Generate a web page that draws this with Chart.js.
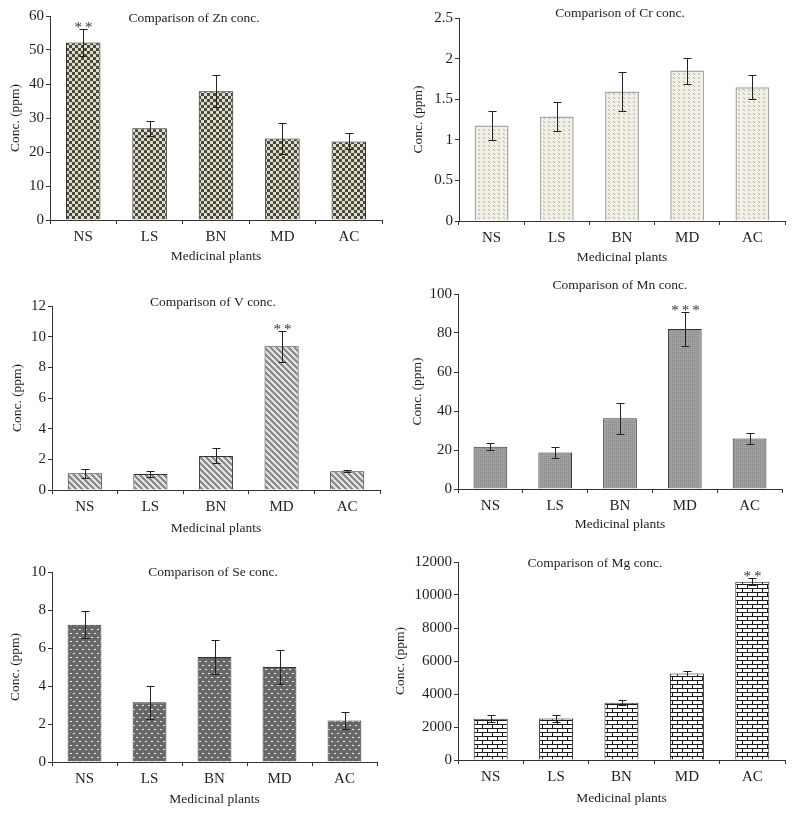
<!DOCTYPE html>
<html>
<head>
<meta charset="utf-8">
<script src="https://cdn.jsdelivr.net/npm/chart.js@4.4.1/dist/chart.umd.min.js"></script>
<style>
  body { margin: 0; background: #fff; }
  #wrap { position: relative; width: 793px; height: 815px; overflow: hidden; }
  #wrap canvas { position: absolute; }
</style>
</head>
<body>
<div id="wrap">
  <canvas id="zn"></canvas>
  <canvas id="v"></canvas>
  <canvas id="se"></canvas>
  <canvas id="cr"></canvas>
  <canvas id="mn"></canvas>
  <canvas id="mg"></canvas>
</div>
<script>
// data (mean and +/- error, ppm)
const plants = ['NS', 'LS', 'BN', 'MD', 'AC'];

const znConc = [52.2, 27.0, 37.9, 24.0, 23.1];
const znErr = [3.85, 2.2, 4.7, 4.5, 2.35];
const znStars = ['**', '', '', '', ''];

const crConc = [1.175, 1.286, 1.594, 1.853, 1.648];
const crErr = [0.175, 0.175, 0.245, 0.16, 0.15];
const crStars = ['', '', '', '', ''];

const vConc = [1.09, 1.04, 2.22, 9.38, 1.22];
const vErr = [0.30, 0.22, 0.49, 1.0, 0.06];
const vStars = ['', '', '', '**', ''];

const mnConc = [21.7, 18.7, 36.3, 82.0, 25.9];
const mnErr = [1.9, 2.7, 7.9, 8.9, 3.0];
const mnStars = ['', '', '', '***', ''];

const seConc = [7.23, 3.14, 5.53, 5.0, 2.19];
const seErr = [0.71, 0.86, 0.9, 0.91, 0.45];
const seStars = ['', '', '', '', ''];

const mgConc = [2500, 2520, 3470, 5245, 10810];
const mgErr = [200, 230, 150, 160, 210];
const mgStars = ['', '', '', '', '**'];

const FONT = '"Liberation Serif", "Times New Roman", serif';
Chart.defaults.font.family = FONT;
Chart.defaults.font.size = 15;
Chart.defaults.color = '#1e1e1e';

function tile(w, h, draw) {
  const c = document.createElement('canvas');
  c.width = w; c.height = h;
  const g = c.getContext('2d');
  draw(g);
  return g.createPattern(c, 'repeat');
}

const checker = tile(6, 6, g => {
  g.fillStyle = '#dedbcb'; g.fillRect(0, 0, 6, 6);
  g.fillStyle = '#4a4a3c'; g.fillRect(0, 0, 3, 3); g.fillRect(3, 3, 3, 3);
});
const dashes = tile(5, 4, g => {
  g.fillStyle = '#f2efe5'; g.fillRect(0, 0, 5, 4);
  g.fillStyle = '#aeab9f'; g.fillRect(1, 1, 1, 1); g.fillRect(2, 2, 1, 1);
});
const stripes = tile(6, 6, g => {
  for (let x = 0; x < 6; x++) for (let y = 0; y < 6; y++) {
    g.fillStyle = ((x - y + 12) % 6) < 3 ? '#8a8a8a' : '#e2e2e2';
    g.fillRect(x, y, 1, 1);
  }
});
const fineGrey = tile(2, 2, g => {
  g.fillStyle = '#a0a0a0'; g.fillRect(0, 0, 2, 2);
  g.fillStyle = '#8a8a8a'; g.fillRect(0, 0, 1, 1);
});
const dots = tile(6, 8, g => {
  g.fillStyle = '#686868'; g.fillRect(0, 0, 6, 8);
  g.fillStyle = '#eeeeee'; g.fillRect(1, 1, 2, 1); g.fillRect(4, 5, 2, 1);
});
const bricks = tile(10, 8, g => {
  g.fillStyle = '#ffffff'; g.fillRect(0, 0, 10, 8);
  g.fillStyle = '#1a1a1a';
  g.fillRect(0, 0, 10, 1); g.fillRect(0, 4, 10, 1);
  g.fillRect(0, 0, 1, 4); g.fillRect(5, 4, 1, 4);
});

const errorBars = {
  id: 'errorBars',
  afterDatasetsDraw(chart, args, o) {
    const ctx = chart.ctx;
    const y = chart.scales.y;
    const meta = chart.getDatasetMeta(0);
    ctx.save();
    ctx.strokeStyle = '#222';
    ctx.fillStyle = '#333';
    ctx.lineWidth = 1;
    ctx.font = '15px ' + FONT;
    ctx.textAlign = 'center';
    o.means.forEach((m, i) => {
      const px = Math.round(meta.data[i].x) + 0.5;
      const top = Math.round(y.getPixelForValue(m + o.errs[i])) + 0.5;
      const bot = Math.round(y.getPixelForValue(m - o.errs[i])) + 0.5;
      ctx.beginPath();
      ctx.moveTo(px, top); ctx.lineTo(px, bot);
      ctx.moveTo(px - 4, top); ctx.lineTo(px + 4, top);
      ctx.moveTo(px - 4, bot); ctx.lineTo(px + 4, bot);
      ctx.stroke();
      if (o.stars[i]) {
        ctx.textBaseline = 'alphabetic';
        ctx.fillText(o.stars[i].split('').join('\u2009'), px, top + 2);
      }
    });
    ctx.fillStyle = '#1e1e1e';
    ctx.font = '13.5px ' + FONT;
    ctx.textBaseline = 'middle';
    ctx.fillText(o.title, o.titleX, o.titleY);
    ctx.restore();
  }
};

function makeChart(id, values, errs, stars, title, max, step, fill, border, g) {
  const cv = document.getElementById(id);
  cv.width = g.w; cv.height = g.h;
  cv.style.left = g.x + 'px'; cv.style.top = g.y + 'px';
  return new Chart(cv, {
    type: 'bar',
    data: {
      labels: plants,
      datasets: [{
        data: values,
        backgroundColor: fill,
        borderColor: border,
        borderWidth: g.bw || 1,
        barPercentage: 0.52,
        categoryPercentage: 1
      }]
    },
    options: {
      responsive: false,
      animation: false,
      layout: { padding: { top: g.top, right: g.w - g.right, left: 0, bottom: 0 } },
      plugins: {
        legend: { display: false },
        tooltip: { enabled: false },
        errorBars: { means: values, errs: errs, stars: stars, title: title, titleX: g.tx, titleY: g.ty }
      },
      scales: {
        x: {
          grid: { drawOnChartArea: false, tickLength: 4, color: '#333', offset: true },
          border: { color: '#333' },
          ticks: { padding: 4 },
          title: { display: true, text: 'Medicinal plants', font: { size: 13.5 }, padding: { top: 0, bottom: Math.max(0, g.h - g.xty - 8.1) } },
          afterFit: s => { s.height = g.h - g.bottom; }
        },
        y: {
          min: 0,
          max: max,
          ticks: { stepSize: step, padding: 2, callback: v => String(v) },
          grid: { drawOnChartArea: false, tickLength: 4, color: '#333' },
          border: { color: '#333' },
          title: { display: true, text: 'Conc. (ppm)', font: { size: 13.5 }, padding: { top: Math.max(0, g.ytx - 8.1), bottom: 0 } },
          afterFit: s => { s.width = g.left; }
        }
      }
    },
    plugins: [errorBars]
  });
}

makeChart('zn', znConc, znErr, znStars, 'Comparison of Zn conc.', 60, 10, checker, '#222',
  { x: 0, y: 0, w: 395, h: 270, left: 50, right: 382, top: 16, bottom: 220, tx: 194, ty: 18, ytx: 15, xty: 256 });
makeChart('cr', crConc, crErr, crStars, 'Comparison of Cr conc.', 2.5, 0.5, dashes, '#a8a8a8',
  { x: 392, y: 0, w: 401, h: 270, left: 67, right: 393, top: 18, bottom: 221, tx: 228, ty: 13, ytx: 26, xty: 257, bw: 1.5 });
makeChart('v', vConc, vErr, vStars, 'Comparison of V conc.', 12, 2, stripes, '#333',
  { x: 0, y: 270, w: 395, h: 270, left: 52, right: 380, top: 36, bottom: 220, tx: 213, ty: 32, ytx: 17, xty: 258 });
makeChart('mn', mnConc, mnErr, mnStars, 'Comparison of Mn conc.', 100, 20, fineGrey, '#333',
  { x: 392, y: 270, w: 401, h: 270, left: 66, right: 390, top: 24, bottom: 219, tx: 228, ty: 15, ytx: 25, xty: 254 });
makeChart('se', seConc, seErr, seStars, 'Comparison of Se conc.', 10, 2, dots, '#333',
  { x: 0, y: 540, w: 395, h: 275, left: 52, right: 377, top: 32, bottom: 222, tx: 213, ty: 32, ytx: 15, xty: 259 });
makeChart('mg', mgConc, mgErr, mgStars, 'Comparison of Mg conc.', 12000, 2000, bricks, '#222',
  { x: 392, y: 540, w: 401, h: 275, left: 66, right: 393, top: 22, bottom: 220, tx: 203, ty: 23, ytx: 7, xty: 258 });
</script>
</body>
</html>
